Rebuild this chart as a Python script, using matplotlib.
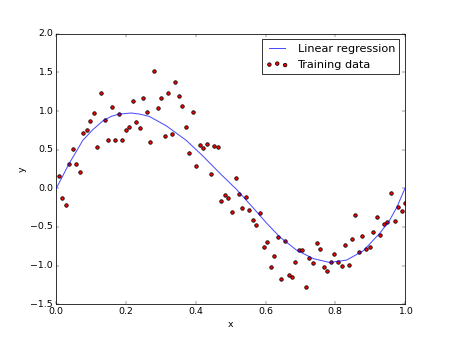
import matplotlib
matplotlib.use('Agg')
import matplotlib.pyplot as plt

# 训练数据
x_train = [0.007, 0.017, 0.027, 0.037, 0.048, 0.058, 0.068, 0.078, 0.088, 0.098,
           0.108, 0.118, 0.129, 0.139, 0.149, 0.159, 0.169, 0.179, 0.189, 0.200,
           0.210, 0.220, 0.230, 0.240, 0.250, 0.260, 0.270, 0.281, 0.291, 0.301,
           0.311, 0.321, 0.331, 0.341, 0.352, 0.362, 0.372, 0.382, 0.392, 0.402,
           0.412, 0.422, 0.433, 0.443, 0.453, 0.463, 0.473, 0.483, 0.493, 0.503,
           0.514, 0.524, 0.534, 0.544, 0.554, 0.564, 0.574, 0.585, 0.595, 0.605,
           0.615, 0.625, 0.635, 0.645, 0.655, 0.666, 0.676, 0.686, 0.696, 0.706,
           0.716, 0.726, 0.737, 0.747, 0.757, 0.767, 0.777, 0.787, 0.797, 0.807,
           0.818, 0.828, 0.838, 0.848, 0.858, 0.868, 0.878, 0.888, 0.899, 0.909,
           0.919, 0.929, 0.939, 0.949, 0.959, 0.970, 0.980, 0.990, 1.000]
y_train = [0.16, -0.12, -0.21, 0.32, 0.51, 0.31, 0.21, 0.71, 0.75, 0.87,
           0.98, 0.53, 1.23, 0.88, 0.62, 1.05, 0.63, 0.96, 0.62, 0.76,
           0.80, 1.13, 0.86, 0.78, 1.17, 0.99, 0.60, 1.52, 1.04, 1.17,
           0.68, 1.24, 0.70, 1.38, 1.19, 1.07, 0.79, 0.46, 0.99, 0.29,
           0.56, 0.52, 0.58, 0.18, 0.55, 0.53, -0.16, -0.09, -0.13, -0.31,
           0.13, -0.08, -0.25, -0.11, -0.28, -0.41, -0.47, -0.32, -0.76, -0.69,
           -1.02, -0.87, -0.63, -1.18, -0.68, -1.12, -1.15, -0.96, -0.80, -0.80,
           -1.28, -0.90, -0.97, -0.71, -0.78, -1.02, -1.07, -0.96, -0.85, -0.96,
           -1.00, -0.73, -0.99, -0.65, -0.35, -0.83, -0.62, -0.78, -0.76, -0.57,
           -0.37, -0.61, -0.46, -0.43, -0.06, -0.42, -0.24, -0.29, -0.19]

# 回归曲线
x_fit = [0.0, 0.037, 0.076, 0.105, 0.133, 0.157, 0.179, 0.215, 0.240, 0.267,
         0.315, 0.373, 0.420, 0.468, 0.516, 0.564, 0.603, 0.641, 0.689, 0.737,
         0.784, 0.832, 0.880, 0.928, 0.955, 0.976, 1.0]
y_fit = [0.0, 0.32, 0.62, 0.76, 0.87, 0.93, 0.96, 0.975, 0.96, 0.93,
         0.81, 0.62, 0.42, 0.20, -0.01, -0.25, -0.45, -0.63, -0.80, -0.91,
         -0.96, -0.93, -0.81, -0.58, -0.42, -0.25, 0.0]

plt.style.use('classic')
fig = plt.figure(figsize=(8, 338 / 56.25))
plt.plot(x_fit, y_fit, 'b-', lw=1.3, alpha=0.7, zorder=3, label='Linear regression')
plt.scatter(x_train, y_train, c='r', s=20, zorder=2, label='Training data')
plt.xlim(0, 1)
plt.ylim(-1.5, 2.0)
plt.xlabel('x')
plt.ylabel('y')
plt.legend()

plt.savefig('out.png', dpi=56.25)
